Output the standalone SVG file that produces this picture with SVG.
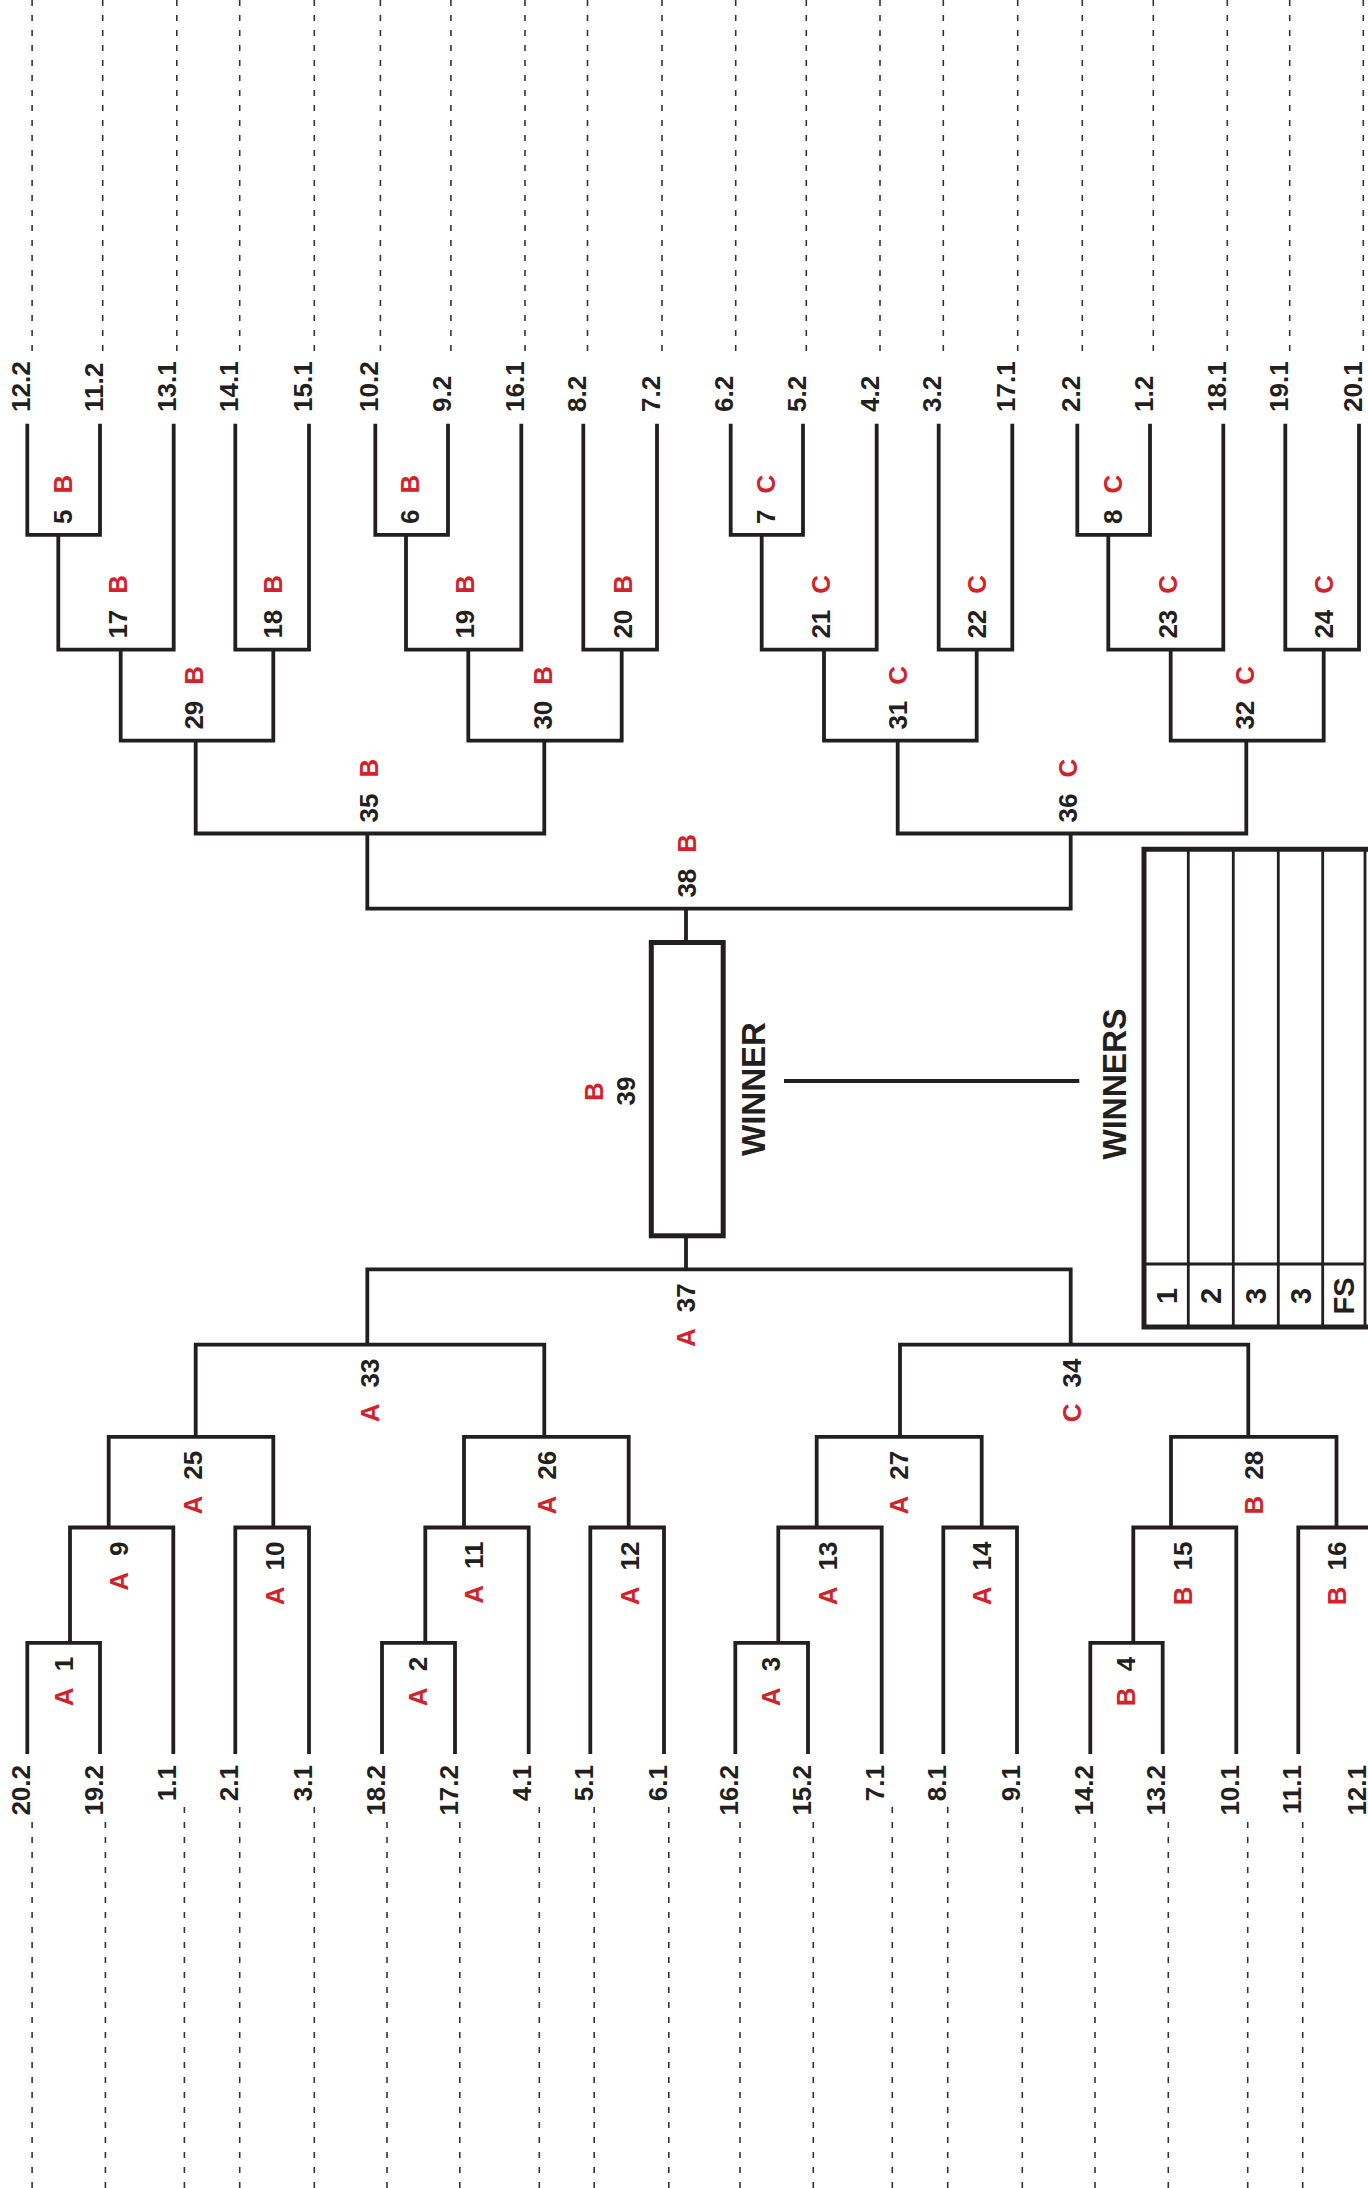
<svg xmlns="http://www.w3.org/2000/svg" width="1368" height="2188" viewBox="0 0 1368 2188">
<style>
.ln{fill:none;stroke:#231f20;stroke-width:3.8;stroke-linejoin:miter;stroke-linecap:butt}
.dl{fill:none;stroke:#333;stroke-width:1.6;stroke-dasharray:6 9}
.t{font-family:"Liberation Sans",Arial,sans-serif;font-weight:bold;font-size:26px;fill:#231f20}
.r{fill:#d2232a}
.big{font-size:34px;text-anchor:middle}
.tl{font-size:29px;text-anchor:middle}
.e{text-anchor:end}
.thick{fill:none;stroke:#231f20;stroke-width:5}
.thin{fill:none;stroke:#231f20;stroke-width:2.8}
</style>
<rect width="1368" height="2188" fill="#fff"/>
<g id="connectors">
<g id="dashed-top">
<path class="dl" d="M32.1 0V356M102.7 0V356M176.8 0V356M239.7 0V356M314.3 0V356M380.4 0V356M450.9 0V356M525 0V356M587.5 0V356M662 0V356M735.7 0V356M806.3 0V356M880 0V356M943.3 0V356M1017.7 0V356M1082.3 0V356M1153.3 0V356M1227.3 0V356M1289.7 0V356M1363.3 0V356"/>
</g>
<g id="dashed-bottom">
<path class="dl" d="M32.1 1822V2188M105.4 1822V2188M184.4 1807V2188M239.7 1807V2188M314.3 1807V2188M387 1822V2188M459.8 1822V2188M539.3 1807V2188M594.2 1807V2188M668.8 1807V2188M740 1822V2188M813.3 1822V2188M892.3 1807V2188M947.7 1807V2188M1022.3 1807V2188M1095 1822V2188M1168.3 1822V2188M1247.7 1822V2188M1302.7 1822V2188"/>
</g>
<g id="top-bracket">
<path class="ln" d="M27.3 423.8V534.9H100V423.8"/>
<path class="ln" d="M375.3 423.8V534.9H448V423.8"/>
<path class="ln" d="M730.7 423.8V534.9H803V423.8"/>
<path class="ln" d="M1077.3 423.8V534.9H1150V423.8"/>
<path class="ln" d="M58.3 534.9V649.6H173.7V423.8"/>
<path class="ln" d="M235.3 423.8V649.6H309V423.8"/>
<path class="ln" d="M406 534.9V649.6H521.3V423.8"/>
<path class="ln" d="M583.3 423.8V649.6H657V423.8"/>
<path class="ln" d="M761.7 534.9V649.6H876.7V423.8"/>
<path class="ln" d="M938.7 423.8V649.6H1012.3V423.8"/>
<path class="ln" d="M1108.3 534.9V649.6H1223.3V423.8"/>
<path class="ln" d="M1285.3 423.8V649.6H1359V423.8"/>
<path class="ln" d="M120.7 649.6V740.6H273.3V649.6"/>
<path class="ln" d="M468.3 649.6V740.6H621.7V649.6"/>
<path class="ln" d="M824 649.6V740.6H976.7V649.6"/>
<path class="ln" d="M1170.7 649.6V740.6H1323.7V649.6"/>
<path class="ln" d="M195.7 740.6V833.5H544.3V740.6"/>
<path class="ln" d="M897.7 740.6V833.5H1246.3V740.6"/>
<path class="ln" d="M367.3 833.5V908.6H1070.7V833.5"/>
<path class="ln" d="M686 908.6V941"/>
</g>
<g id="bottom-bracket">
<path class="ln" d="M27.3 1754V1642.9H100V1754"/>
<path class="ln" d="M382 1754V1642.9H455V1754"/>
<path class="ln" d="M735.3 1754V1642.9H808V1754"/>
<path class="ln" d="M1090.3 1754V1642.9H1162.7V1754"/>
<path class="ln" d="M70 1642.9V1527.5H173.3V1754"/>
<path class="ln" d="M235.3 1754V1527.5H309V1754"/>
<path class="ln" d="M425.3 1642.9V1527.5H528.7V1754"/>
<path class="ln" d="M590.3 1754V1527.5H664V1754"/>
<path class="ln" d="M778.3 1642.9V1527.5H881.7V1754"/>
<path class="ln" d="M943.3 1754V1527.5H1017V1754"/>
<path class="ln" d="M1133.3 1642.9V1527.5H1236.3V1754"/>
<path class="ln" d="M1298.3 1754V1527.5H1372V1754"/>
<path class="ln" d="M108.7 1527.5V1436.8H273.3V1527.5"/>
<path class="ln" d="M464 1527.5V1436.8H628.7V1527.5"/>
<path class="ln" d="M816.7 1527.5V1436.8H981.7V1527.5"/>
<path class="ln" d="M1171 1527.5V1436.8H1336.5V1527.5"/>
<path class="ln" d="M195.7 1436.8V1344.6H544.3V1436.8"/>
<path class="ln" d="M900 1436.8V1344.6H1248.3V1436.8"/>
<path class="ln" d="M367.3 1344.6V1269.3H1070.7V1344.6"/>
<path class="ln" d="M686 1269.3V1237"/>
</g>
<path id="winner-link" class="ln" stroke-width="4" d="M784 1081H1079.3"/>
</g>
<g id="seeds-top" class="t">
<text transform="translate(30,412) rotate(-90)">12.2</text>
<text transform="translate(102.7,412) rotate(-90)">11.2</text>
<text transform="translate(176.4,412) rotate(-90)">13.1</text>
<text transform="translate(238,412) rotate(-90)">14.1</text>
<text transform="translate(311.7,412) rotate(-90)">15.1</text>
<text transform="translate(378,412) rotate(-90)">10.2</text>
<text transform="translate(450.7,412) rotate(-90)">9.2</text>
<text transform="translate(524,412) rotate(-90)">16.1</text>
<text transform="translate(586,412) rotate(-90)">8.2</text>
<text transform="translate(659.7,412) rotate(-90)">7.2</text>
<text transform="translate(733.4,412) rotate(-90)">6.2</text>
<text transform="translate(805.7,412) rotate(-90)">5.2</text>
<text transform="translate(879.4,412) rotate(-90)">4.2</text>
<text transform="translate(941.4,412) rotate(-90)">3.2</text>
<text transform="translate(1015,412) rotate(-90)">17.1</text>
<text transform="translate(1080,412) rotate(-90)">2.2</text>
<text transform="translate(1152.7,412) rotate(-90)">1.2</text>
<text transform="translate(1226,412) rotate(-90)">18.1</text>
<text transform="translate(1288,412) rotate(-90)">19.1</text>
<text transform="translate(1361.7,412) rotate(-90)">20.1</text>
</g>
<g id="seeds-bottom" class="t e">
<text class="e" transform="translate(30,1765) rotate(-90)">20.2</text>
<text class="e" transform="translate(102.7,1765) rotate(-90)">19.2</text>
<text class="e" transform="translate(176,1765) rotate(-90)">1.1</text>
<text class="e" transform="translate(238,1765) rotate(-90)">2.1</text>
<text class="e" transform="translate(311.7,1765) rotate(-90)">3.1</text>
<text class="e" transform="translate(384.7,1765) rotate(-90)">18.2</text>
<text class="e" transform="translate(457.7,1765) rotate(-90)">17.2</text>
<text class="e" transform="translate(531.4,1765) rotate(-90)">4.1</text>
<text class="e" transform="translate(593,1765) rotate(-90)">5.1</text>
<text class="e" transform="translate(666.7,1765) rotate(-90)">6.1</text>
<text class="e" transform="translate(738,1765) rotate(-90)">16.2</text>
<text class="e" transform="translate(810.7,1765) rotate(-90)">15.2</text>
<text class="e" transform="translate(884.4,1765) rotate(-90)">7.1</text>
<text class="e" transform="translate(946,1765) rotate(-90)">8.1</text>
<text class="e" transform="translate(1019.7,1765) rotate(-90)">9.1</text>
<text class="e" transform="translate(1093,1765) rotate(-90)">14.2</text>
<text class="e" transform="translate(1165.4,1765) rotate(-90)">13.2</text>
<text class="e" transform="translate(1239,1765) rotate(-90)">10.1</text>
<text class="e" transform="translate(1301,1765) rotate(-90)">11.1</text>
<text class="e" transform="translate(1366,1765) rotate(-90)">12.1</text>
</g>
<g id="m5" class="t"><text transform="translate(72,523.9) rotate(-90)">5<tspan class="r" dx="16">B</tspan></text></g>
<g id="m6" class="t"><text transform="translate(419.3,523.9) rotate(-90)">6<tspan class="r" dx="16">B</tspan></text></g>
<g id="m7" class="t"><text transform="translate(775,523.9) rotate(-90)">7<tspan class="r" dx="16">C</tspan></text></g>
<g id="m8" class="t"><text transform="translate(1121.7,523.9) rotate(-90)">8<tspan class="r" dx="16">C</tspan></text></g>
<g id="m17" class="t"><text transform="translate(127,638.6) rotate(-90)">17<tspan class="r" dx="16">B</tspan></text></g>
<g id="m18" class="t"><text transform="translate(281.7,638.6) rotate(-90)">18<tspan class="r" dx="16">B</tspan></text></g>
<g id="m19" class="t"><text transform="translate(474.3,638.6) rotate(-90)">19<tspan class="r" dx="16">B</tspan></text></g>
<g id="m20" class="t"><text transform="translate(631.7,638.6) rotate(-90)">20<tspan class="r" dx="16">B</tspan></text></g>
<g id="m21" class="t"><text transform="translate(830,638.6) rotate(-90)">21<tspan class="r" dx="16">C</tspan></text></g>
<g id="m22" class="t"><text transform="translate(986,638.6) rotate(-90)">22<tspan class="r" dx="16">C</tspan></text></g>
<g id="m23" class="t"><text transform="translate(1177.3,638.6) rotate(-90)">23<tspan class="r" dx="16">C</tspan></text></g>
<g id="m24" class="t"><text transform="translate(1333.3,638.6) rotate(-90)">24<tspan class="r" dx="16">C</tspan></text></g>
<g id="m29" class="t"><text transform="translate(203.3,729.6) rotate(-90)">29<tspan class="r" dx="16">B</tspan></text></g>
<g id="m30" class="t"><text transform="translate(551.7,729.6) rotate(-90)">30<tspan class="r" dx="16">B</tspan></text></g>
<g id="m31" class="t"><text transform="translate(906.7,729.6) rotate(-90)">31<tspan class="r" dx="16">C</tspan></text></g>
<g id="m32" class="t"><text transform="translate(1254,729.6) rotate(-90)">32<tspan class="r" dx="16">C</tspan></text></g>
<g id="m35" class="t"><text transform="translate(378.3,822.5) rotate(-90)">35<tspan class="r" dx="16">B</tspan></text></g>
<g id="m36" class="t"><text transform="translate(1076.7,822.5) rotate(-90)">36<tspan class="r" dx="16">C</tspan></text></g>
<g id="m38" class="t"><text transform="translate(695.7,897.6) rotate(-90)">38<tspan class="r" dx="16">B</tspan></text></g>
<g id="m1" class="t"><text class="e" transform="translate(72.7,1656.9) rotate(-90)"><tspan class="r">A</tspan><tspan dx="16">1</tspan></text></g>
<g id="m2" class="t"><text class="e" transform="translate(426.7,1656.9) rotate(-90)"><tspan class="r">A</tspan><tspan dx="16">2</tspan></text></g>
<g id="m3" class="t"><text class="e" transform="translate(780,1656.9) rotate(-90)"><tspan class="r">A</tspan><tspan dx="16">3</tspan></text></g>
<g id="m4" class="t"><text class="e" transform="translate(1135,1656.9) rotate(-90)"><tspan class="r">B</tspan><tspan dx="16">4</tspan></text></g>
<g id="m9" class="t"><text class="e" transform="translate(128.3,1541.5) rotate(-90)"><tspan class="r">A</tspan><tspan dx="16">9</tspan></text></g>
<g id="m10" class="t"><text class="e" transform="translate(284,1541.5) rotate(-90)"><tspan class="r">A</tspan><tspan dx="16">10</tspan></text></g>
<g id="m11" class="t"><text class="e" transform="translate(483.3,1541.5) rotate(-90)"><tspan class="r">A</tspan><tspan dx="16">11</tspan></text></g>
<g id="m12" class="t"><text class="e" transform="translate(639,1541.5) rotate(-90)"><tspan class="r">A</tspan><tspan dx="16">12</tspan></text></g>
<g id="m13" class="t"><text class="e" transform="translate(836.7,1541.5) rotate(-90)"><tspan class="r">A</tspan><tspan dx="16">13</tspan></text></g>
<g id="m14" class="t"><text class="e" transform="translate(991,1541.5) rotate(-90)"><tspan class="r">A</tspan><tspan dx="16">14</tspan></text></g>
<g id="m15" class="t"><text class="e" transform="translate(1191.7,1541.5) rotate(-90)"><tspan class="r">B</tspan><tspan dx="16">15</tspan></text></g>
<g id="m16" class="t"><text class="e" transform="translate(1345.7,1541.5) rotate(-90)"><tspan class="r">B</tspan><tspan dx="16">16</tspan></text></g>
<g id="m25" class="t"><text class="e" transform="translate(201.7,1450.8) rotate(-90)"><tspan class="r">A</tspan><tspan dx="16">25</tspan></text></g>
<g id="m26" class="t"><text class="e" transform="translate(555.7,1450.8) rotate(-90)"><tspan class="r">A</tspan><tspan dx="16">26</tspan></text></g>
<g id="m27" class="t"><text class="e" transform="translate(908,1450.8) rotate(-90)"><tspan class="r">A</tspan><tspan dx="16">27</tspan></text></g>
<g id="m28" class="t"><text class="e" transform="translate(1263.3,1450.8) rotate(-90)"><tspan class="r">B</tspan><tspan dx="16">28</tspan></text></g>
<g id="m33" class="t"><text class="e" transform="translate(379,1358.6) rotate(-90)"><tspan class="r">A</tspan><tspan dx="16">33</tspan></text></g>
<g id="m34" class="t"><text class="e" transform="translate(1081,1358.6) rotate(-90)"><tspan class="r">C</tspan><tspan dx="16">34</tspan></text></g>
<g id="m37" class="t"><text class="e" transform="translate(695,1283.3) rotate(-90)"><tspan class="r">A</tspan><tspan dx="16">37</tspan></text></g>
<g id="winner">
<rect class="thick" x="651.3" y="942.5" width="71.9" height="293.3"/>
<text class="t" text-anchor="middle" transform="translate(635.4,1091) rotate(-90)">39</text>
<text class="t r" text-anchor="middle" transform="translate(603,1091.7) rotate(-90)">B</text>
<text class="t big" textLength="134" lengthAdjust="spacingAndGlyphs" transform="translate(764.7,1089) rotate(-90)">WINNER</text>
</g>
<g id="winners-table">
<text class="t big" textLength="151" lengthAdjust="spacingAndGlyphs" transform="translate(1126.4,1084) rotate(-90)">WINNERS</text>
<path class="thin" d="M1188.3 849V1327M1233.3 849V1327M1278.3 849V1327M1322.7 849V1327M1365 849V1327M1144 1264H1365"/>
<path class="thick" d="M1368 849.2H1144V1327H1368"/>
<text class="t tl" transform="translate(1177.2,1296) rotate(-90)">1</text>
<text class="t tl" transform="translate(1220.8,1296) rotate(-90)">2</text>
<text class="t tl" transform="translate(1265.8,1296) rotate(-90)">3</text>
<text class="t tl" transform="translate(1310.5,1296) rotate(-90)">3</text>
<text class="t tl" transform="translate(1353.9,1296) rotate(-90)">FS</text>
</g>
</svg>
